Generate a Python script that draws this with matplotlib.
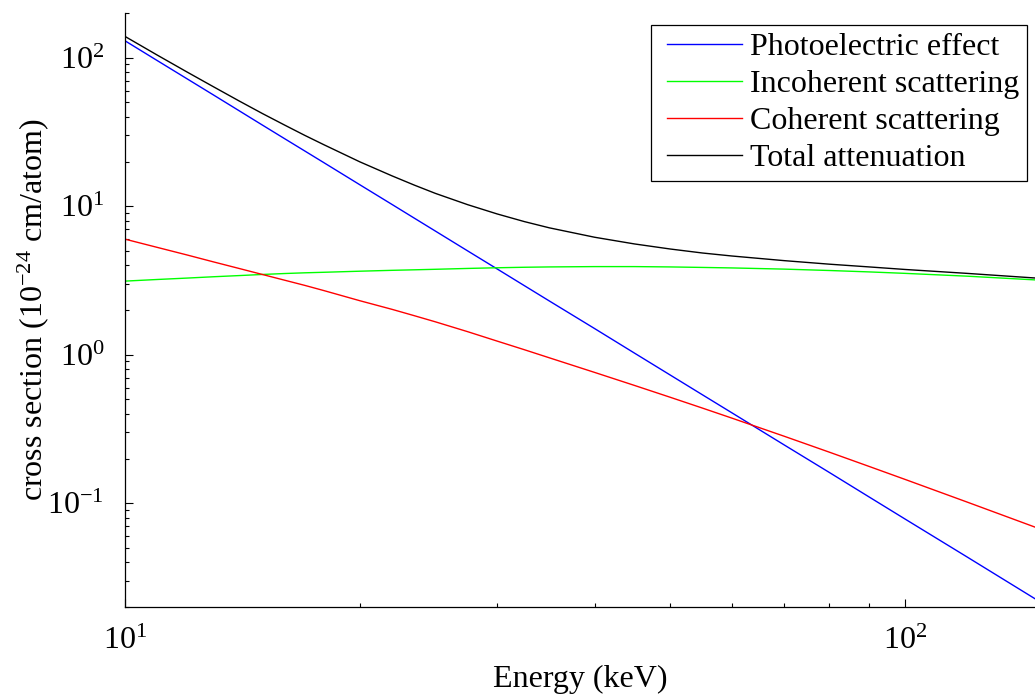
import matplotlib
matplotlib.use("Agg")
import matplotlib.pyplot as plt
from matplotlib.lines import Line2D
from matplotlib.legend_handler import HandlerLine2D

plt.rcParams['font.family'] = ['Liberation Serif', 'DejaVu Serif']
plt.rcParams['mathtext.fontset'] = 'custom'
plt.rcParams['mathtext.rm'] = 'Liberation Serif'
plt.rcParams['mathtext.it'] = 'Liberation Serif:italic'
plt.rcParams['mathtext.bf'] = 'Liberation Serif:bold'

FS = 23

# photon energy (keV) and cross sections (1e-24 cm^2/atom)
energy = [10, 11, 12, 13, 14, 15, 16, 17, 18, 20, 22, 23.5, 25, 27.5, 30,
          32.5, 35, 40, 45, 50, 55, 60, 70, 80, 90, 100, 120, 150]
photo = [130, 95.6, 72.3, 55.9, 44.0, 35.2, 28.6, 23.55, 19.6, 13.95, 10.27,
         8.30, 6.80, 5.00, 3.78, 2.92, 2.30, 1.50, 1.025, 0.730, 0.537, 0.406,
         0.247, 0.161, 0.110, 0.0783, 0.0436, 0.0212]
incoherent = [3.13, 3.21, 3.28, 3.35, 3.41, 3.47, 3.52, 3.56, 3.59, 3.65,
              3.70, 3.73, 3.76, 3.81, 3.85, 3.88, 3.90, 3.92, 3.92, 3.90,
              3.87, 3.84, 3.77, 3.69, 3.61, 3.53, 3.38, 3.17]
coherent = [6.0, 5.28, 4.70, 4.21, 3.81, 3.47, 3.18, 2.93, 2.70, 2.31, 2.02,
            1.83, 1.665, 1.429, 1.235, 1.081, 0.953, 0.760, 0.621, 0.517,
            0.437, 0.374, 0.2825, 0.2206, 0.1767, 0.1447, 0.102, 0.0662]
total = [139.1, 104.1, 80.3, 63.5, 51.2, 42.1, 35.3, 30.0, 25.9, 19.9, 16.0,
         13.86, 12.2, 10.24, 8.87, 7.88, 7.15, 6.18, 5.57, 5.15, 4.84, 4.62,
         4.30, 4.07, 3.90, 3.75, 3.53, 3.26]

labels = ['Photoelectric effect', 'Incoherent scattering',
          'Coherent scattering', 'Total attenuation']
colors = ['#0000ff', '#00ff00', '#ff0000', '#000000']

fig = plt.figure(figsize=(10.35, 6.95), dpi=100)
ax = fig.add_axes([125 / 1035, 1 - 607 / 695, 1 - 125 / 1035, (607 - 13) / 695])

for ys, lab, c in zip([photo, incoherent, coherent, total], labels, colors):
    ax.plot(energy, ys, color=c, lw=1.0, label=lab)

ax.set_xscale('log')
ax.set_yscale('log')
ax.set_xlim(10, 146.8)
ax.set_ylim(0.02, 200)

for side in ('top', 'right'):
    ax.spines[side].set_visible(False)
for side in ('left', 'bottom'):
    ax.spines[side].set_linewidth(0.9)

ax.tick_params(which='both', direction='in', width=0.8, labelsize=FS)
ax.tick_params(which='major', length=6)
ax.tick_params(which='minor', length=3.2)
ax.tick_params(axis='x', pad=14)
ax.tick_params(axis='y', pad=15)

ax.set_xlabel('Energy (keV)', fontsize=FS, labelpad=7)
ax.set_ylabel('cross section (10$^{-24}$ cm/atom)', fontsize=FS)
ax.yaxis.set_label_coords((51 - 125) / 910, 0.5)

leg = ax.legend(loc='upper right', bbox_to_anchor=(1027 / 1035, 1 - 25 / 695),
                bbox_transform=fig.transFigure, fontsize=FS, fancybox=False,
                framealpha=1, edgecolor='black', handlelength=2.6,
                handletextpad=0.25, labelspacing=0.24, borderpad=0.25,
                borderaxespad=0,
                handler_map={Line2D: HandlerLine2D(xpad=0.25)})
leg.get_frame().set_linewidth(0.9)

fig.savefig('out.png', dpi=100)
